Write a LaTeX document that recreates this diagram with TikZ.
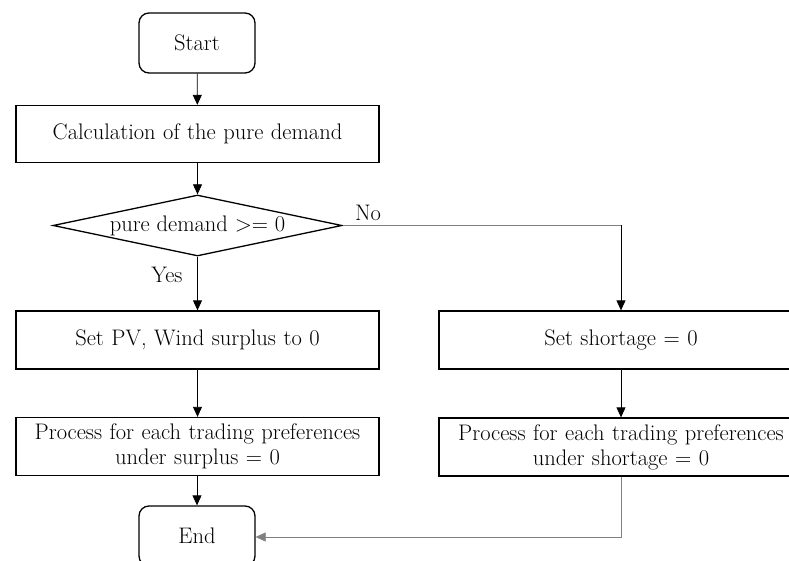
\documentclass[tikz,border=0pt]{standalone}
\usetikzlibrary{arrows.meta,shapes.geometric}
\begin{document}
\begin{tikzpicture}[x=1pt,y=-1pt,
  font=\fontsize{22.5}{25}\selectfont,
  box/.style={draw, line width=1.3pt, inner sep=0pt, align=center, text width=#1},
  box/.default=355pt,
  term/.style={draw, line width=1.3pt, rounded corners=10pt, inner sep=0pt, minimum width=116pt, minimum height=60pt},
  dec/.style={draw, diamond, line width=1.3pt, inner sep=0pt, aspect=4.74, minimum width=289pt, minimum height=61pt},
  arr/.style={-{Triangle[length=10pt,width=9pt]}, line width=0.8pt},
  garr/.style={arr, draw=black!50},
  lbl/.style={inner sep=0pt}
]
\useasboundingbox (0,0) rectangle (789,561);
\node[term] (start) at (197,43) {Start};
\node[box, minimum width=363pt, minimum height=57pt] (calc) at (197.5,134) {Calculation of the pure demand};
\node[dec] (dec) at (197.5,225.5) {pure demand >= 0};
\node[box, minimum width=363pt, minimum height=58pt] (setpv) at (197.5,340) {Set PV, Wind surplus to 0};
\node[box, minimum width=364pt, minimum height=58pt] (setsh) at (621,340) {Set shortage = 0};
\node[box, minimum width=363pt, minimum height=58pt] (procs) at (197.5,446.5) {Process for each trading preferences\\under surplus = 0};
\node[box, minimum width=364pt, minimum height=58pt] (procsh) at (621,447) {Process for each trading preferences\\under shortage = 0};
\node[term] (end) at (197,536) {End};
\coordinate (c1) at (621,225.5);
\coordinate (c2) at (621,537);
\node[lbl] (yes) at (167,275) {Yes};
\node[lbl] (no) at (368,213) {No};
\draw[arr] (start) -- (calc);
\draw[arr] (calc) -- (dec);
\draw[arr] (dec.south) -- (setpv.north);
\draw[line width=0.8pt, draw=black!50] (dec.east) -- (c1);
\draw[arr] (c1) -- (setsh.north);
\draw[arr] (setpv) -- (procs);
\draw[arr] (setsh) -- (procsh);
\draw[arr] (procs.south -| end.north) -- (end.north);
\draw[garr] (procsh.south) -- (c2) -- (end.east |- c2);
\end{tikzpicture}
\end{document}
